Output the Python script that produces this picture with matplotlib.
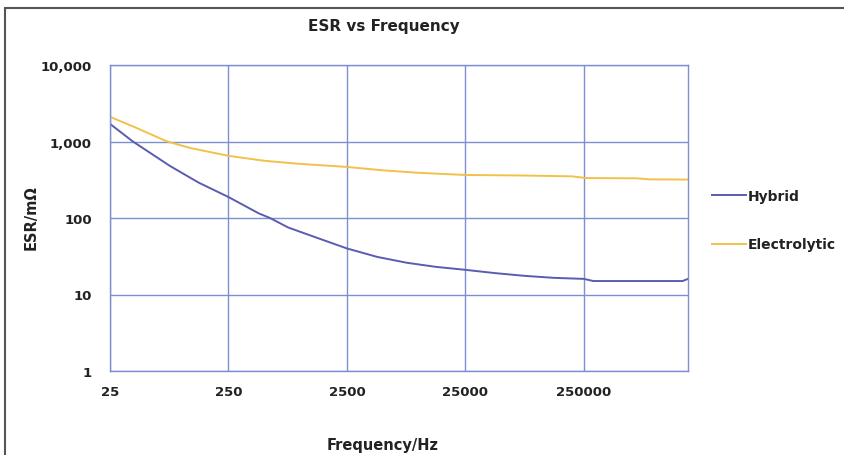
import matplotlib.pyplot as plt
import matplotlib.patches as patches
from matplotlib.ticker import FixedLocator, NullLocator

plt.rcParams['font.family'] = ['DejaVu Sans']

# frequency points (Hz) and ESR (mOhm)
freq_hybrid = [25, 39, 80, 140, 250, 450, 560, 800, 1400, 2500, 4500, 8000, 14000,
               25000, 45000, 80000, 140000, 250000, 300000, 500000, 1000000, 1700000, 1890000]
esr_hybrid = [1700, 1000, 480, 290, 188, 115, 100, 75, 55, 40, 31, 26, 23,
              21, 19, 17.5, 16.5, 16, 15, 15, 15, 15, 16]

freq_elec = [25, 40, 76, 120, 250, 500, 1000, 2500, 5000, 10000, 25000, 70000,
             120000, 200000, 260000, 700000, 900000, 1890000]
esr_elec = [2100, 1550, 1000, 820, 650, 560, 510, 465, 420, 390, 365, 360,
            355, 350, 333, 330, 320, 318]

x_ticks = [25, 250, 2500, 25000, 250000]
x_labels = ['25', '250', '2500', '25000', '250000']
y_ticks = [1, 10, 100, 1000, 10000]
y_labels = ['1', '10', '100', '1,000', '10,000']

fig = plt.figure(figsize=(8.45, 4.56), dpi=100)
ax = fig.add_axes([110 / 845, 1 - 372 / 456, 578 / 845, 306 / 456])

ax.plot(freq_hybrid, esr_hybrid, color='#5a5cb0', lw=1.4, label='Hybrid')
ax.plot(freq_elec, esr_elec, color='#f0c24a', lw=1.4, label='Electrolytic')

ax.set_xscale('log')
ax.set_yscale('log')
ax.set_xlim(25, 1.89e6)
ax.set_ylim(1, 10000)
ax.xaxis.set_major_locator(FixedLocator(x_ticks))
ax.xaxis.set_minor_locator(NullLocator())
ax.set_xticklabels(x_labels)
ax.yaxis.set_major_locator(FixedLocator(y_ticks))
ax.yaxis.set_minor_locator(NullLocator())
ax.set_yticklabels(y_labels)

grid_c = '#7b8fd2'
ax.grid(True, color=grid_c, lw=1.0)
for s in ax.spines.values():
    s.set_color(grid_c)
    s.set_linewidth(1.0)
ax.tick_params(axis='x', length=0, pad=10, labelsize=9.5)
ax.tick_params(axis='y', length=0, pad=13, labelsize=9.5)
for lab in ax.get_xticklabels() + ax.get_yticklabels():
    lab.set_fontweight('bold')
    lab.set_color('#222222')

fig.text(384 / 845, 1 - 27 / 456, 'ESR vs Frequency', ha='center', va='center',
         fontsize=11, fontweight='bold', color='#222222')
fig.text(383 / 845, 1 - 446 / 456, 'Frequency/Hz', ha='center', va='center',
         fontsize=10.5, fontweight='bold', color='#222222')
fig.text(31 / 845, 1 - 218 / 456, 'ESR/mΩ', ha='center', va='center', rotation=90,
         fontsize=10.5, fontweight='bold', color='#222222')

leg = fig.legend(loc='center left', bbox_to_anchor=(700 / 845, 1 - 221 / 456),
                 frameon=False, handlelength=2.4, handletextpad=0.15,
                 labelspacing=2.5, prop={'weight': 'bold', 'size': 10})
for t in leg.get_texts():
    t.set_color('#222222')

# outer frame
fig.patches.append(patches.Rectangle((5 / 845, -0.1), 1.2, 1 - 9 / 456 + 0.1,
                                     transform=fig.transFigure, fill=False,
                                     edgecolor='#555555', lw=1.5))

plt.savefig('out.png', dpi=100)
